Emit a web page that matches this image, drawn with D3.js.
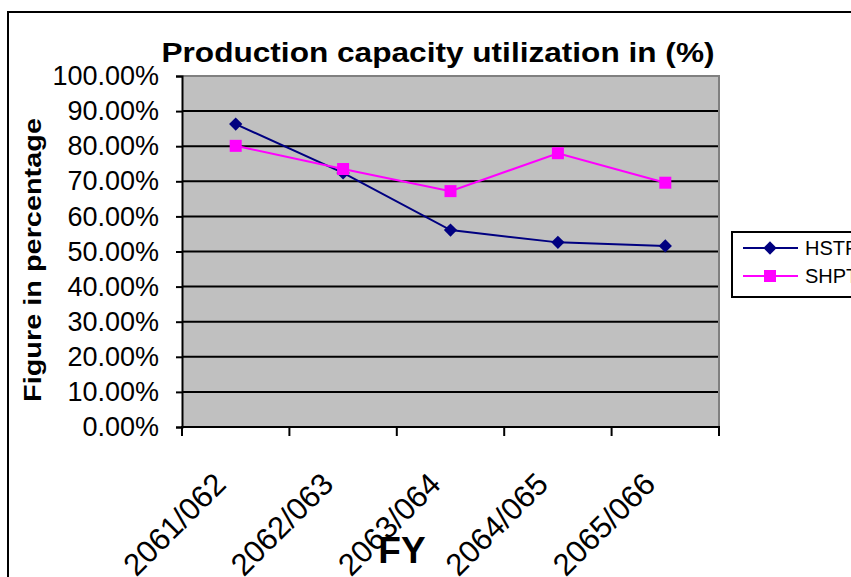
<!DOCTYPE html>
<html>
<head>
<meta charset="utf-8">
<script src="https://cdn.jsdelivr.net/npm/d3@7/dist/d3.min.js"></script>
<style>
  html, body { margin: 0; padding: 0; background: #fff; }
  svg { display: block; font-family: "Liberation Sans", Arial, sans-serif; }
</style>
</head>
<body>
<svg id="chart" width="851" height="577"></svg>
<script>
// Fiscal years and capacity utilization (fraction of 1)
const years = ["2061/062", "2062/063", "2063/064", "2064/065", "2065/066"];
const hstp = [0.863, 0.724, 0.561, 0.526, 0.516];
const shpt = [0.801, 0.735, 0.672, 0.780, 0.696];
const seriesNames = ["HSTP", "SHPT"];
const yTicks = [0, 0.1, 0.2, 0.3, 0.4, 0.5, 0.6, 0.7, 0.8, 0.9, 1.0];

const svg = d3.select("#chart");
const plot = { left: 182, right: 719, top: 76, bottom: 427 };

// outer chart frame
svg.append("rect")
  .attr("x", 8).attr("y", 12)
  .attr("width", 900).attr("height", 700)
  .attr("fill", "#fff").attr("stroke", "#000").attr("stroke-width", 2);

const x = d3.scaleBand().domain(years).range([plot.left, plot.right]).paddingInner(0).paddingOuter(0);
const y = d3.scaleLinear().domain([0, 1]).range([plot.bottom, plot.top]);

// plot background
svg.append("rect")
  .attr("x", plot.left).attr("y", plot.top)
  .attr("width", plot.right - plot.left).attr("height", plot.bottom - plot.top)
  .attr("fill", "#C0C0C0");

// horizontal gridlines
svg.append("g").selectAll("line").data(yTicks.slice(1, -1)).join("line")
  .attr("x1", plot.left).attr("x2", plot.right)
  .attr("y1", d => y(d)).attr("y2", d => y(d))
  .attr("stroke", "#000").attr("stroke-width", 2);

// plot border on top and right
svg.append("path")
  .attr("d", `M${plot.left},${plot.top}H${plot.right}V${plot.bottom}`)
  .attr("fill", "none").attr("stroke", "#808080").attr("stroke-width", 2);

// y axis
const yAxis = d3.axisLeft(y).tickValues(yTicks).tickSize(6).tickPadding(17)
  .tickFormat(d => (d * 100).toFixed(2) + "%");
const gy = svg.append("g").attr("transform", `translate(${plot.left},0)`).call(yAxis);
gy.select(".domain").attr("stroke", "#000").attr("stroke-width", 2);
gy.selectAll(".tick line").attr("stroke", "#000").attr("stroke-width", 2);
gy.selectAll(".tick text").attr("font-size", 27).attr("fill", "#000")
  .attr("font-family", "'Liberation Sans', Arial, sans-serif");

// x axis line with ticks at category boundaries
svg.append("line")
  .attr("x1", plot.left - 1).attr("x2", plot.right + 1)
  .attr("y1", plot.bottom).attr("y2", plot.bottom)
  .attr("stroke", "#000").attr("stroke-width", 2);
const bounds = years.map(d => x(d)).concat([x(years[years.length - 1]) + x.bandwidth()]);
svg.append("g").selectAll("line").data(bounds).join("line")
  .attr("x1", d => d).attr("x2", d => d)
  .attr("y1", plot.bottom).attr("y2", plot.bottom + 9)
  .attr("stroke", "#000").attr("stroke-width", 2);

// rotated category labels
svg.append("g").selectAll("text").data(years).join("text")
  .attr("transform", d => `translate(${x(d) + x.bandwidth() / 2 - 8},${plot.bottom + 59}) rotate(-45)`)
  .attr("text-anchor", "end")
  .attr("font-size", 31)
  .attr("fill", "#000")
  .text(d => d);

// series lines and markers
const cx = d => x(d) + x.bandwidth() / 2;
const line = d3.line().x((v, i) => cx(years[i])).y(v => y(v));

svg.append("path").datum(hstp).attr("d", line)
  .attr("fill", "none").attr("stroke", "#000080").attr("stroke-width", 2);
svg.append("path").datum(shpt).attr("d", line)
  .attr("fill", "none").attr("stroke", "#FF00FF").attr("stroke-width", 2);

const diamond = d3.symbol().type(d3.symbolSquare).size(88);
svg.append("g").selectAll("path").data(hstp).join("path")
  .attr("d", diamond())
  .attr("transform", (v, i) => `translate(${cx(years[i])},${y(v)}) rotate(45)`)
  .attr("fill", "#000080");
svg.append("g").selectAll("rect").data(shpt).join("rect")
  .attr("x", (v, i) => cx(years[i]) - 6).attr("y", v => y(v) - 6)
  .attr("width", 12).attr("height", 12)
  .attr("fill", "#FF00FF");

// title and axis titles
svg.append("text")
  .attr("x", 438).attr("y", 62)
  .attr("text-anchor", "middle")
  .attr("font-size", 27).attr("font-weight", "bold")
  .attr("textLength", 553).attr("lengthAdjust", "spacingAndGlyphs")
  .text("Production capacity utilization in (%)");

svg.append("text")
  .attr("transform", "translate(41,260) rotate(-90)")
  .attr("text-anchor", "middle")
  .attr("font-size", 23).attr("font-weight", "bold")
  .attr("textLength", 284).attr("lengthAdjust", "spacingAndGlyphs")
  .text("Figure in percentage");

svg.append("text")
  .attr("x", 402).attr("y", 563)
  .attr("text-anchor", "middle")
  .attr("font-size", 37).attr("font-weight", "bold")
  .text("FY");

// legend
const lg = svg.append("g");
lg.append("rect")
  .attr("x", 732).attr("y", 232).attr("width", 200).attr("height", 65)
  .attr("fill", "#fff").attr("stroke", "#000").attr("stroke-width", 2);
const colors = ["#000080", "#FF00FF"];
seriesNames.forEach((name, i) => {
  const ly = 248 + i * 28;
  lg.append("line").attr("x1", 743).attr("x2", 798).attr("y1", ly).attr("y2", ly)
    .attr("stroke", colors[i]).attr("stroke-width", 2);
  if (i === 0) {
    lg.append("path").attr("d", diamond())
      .attr("transform", `translate(770,${ly}) rotate(45)`).attr("fill", colors[i]);
  } else {
    lg.append("rect").attr("x", 764).attr("y", ly - 6).attr("width", 12).attr("height", 12)
      .attr("fill", colors[i]);
  }
  lg.append("text").attr("x", 805).attr("y", ly + 7)
    .attr("font-size", 20).attr("fill", "#000").text(name);
});
</script>
</body>
</html>
